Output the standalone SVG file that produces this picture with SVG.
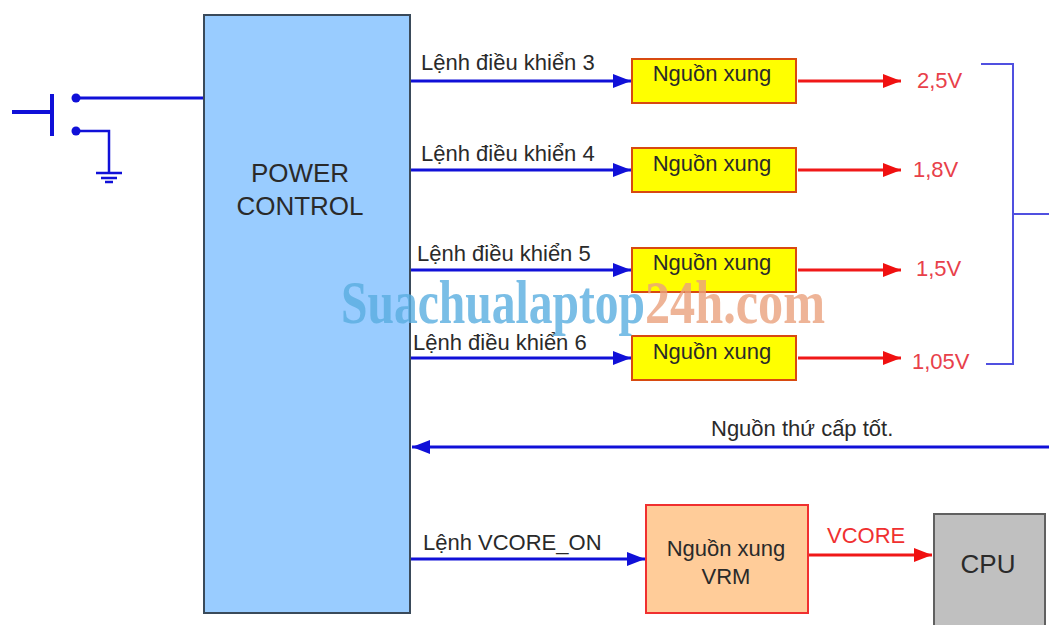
<svg xmlns="http://www.w3.org/2000/svg" width="1049" height="625" viewBox="0 0 1049 625">
<style>
text{font-family:"Liberation Sans",Arial,sans-serif;font-size:22px;fill:#2a2a2a}
.b{stroke:#1010d8;stroke-width:3;fill:none}
.r{stroke:#f01818;stroke-width:3;fill:none}
.t{stroke:#5050e0;stroke-width:2;fill:none}
.y{fill:#ffff00;stroke:#d84a10;stroke-width:2}
.v{fill:#e8404a}
.m{font-family:"Liberation Serif",serif;font-weight:bold;font-size:62px}
</style>
<defs>
<marker id="ab" markerUnits="userSpaceOnUse" markerWidth="20" markerHeight="16" refX="18" refY="8" orient="auto"><path d="M0 1L18 8L0 15Z" fill="#1010d8"/></marker>
<marker id="ar" markerUnits="userSpaceOnUse" markerWidth="20" markerHeight="16" refX="18" refY="8" orient="auto"><path d="M0 1L18 8L0 15Z" fill="#f01010"/></marker>
</defs>
<rect width="1049" height="625" fill="#fff"/>
<g id="connectors">
<path class="b" d="M76 98H204"/>
<path class="b" d="M52 94V136M12 112H52" style="stroke-width:4"/>
<path class="b" d="M76 131H109V172" style="stroke-width:2.5"/>
<circle cx="76" cy="98" r="4.5" fill="#1010d8"/><circle cx="76" cy="131" r="4.5" fill="#1010d8"/>
<path class="b" d="M96 173H122M101 178H117M105 182H113" style="stroke-width:2.5"/>
<path class="b" d="M411 81H631" marker-end="url(#ab)"/>
<path class="b" d="M411 170H631" marker-end="url(#ab)"/>
<path class="b" d="M411 270H631" marker-end="url(#ab)"/>
<path class="b" d="M411 358H631" marker-end="url(#ab)"/>
<path class="r" d="M798 81H901" marker-end="url(#ar)"/>
<path class="r" d="M798 170H901" marker-end="url(#ar)"/>
<path class="r" d="M798 270H901" marker-end="url(#ar)"/>
<path class="r" d="M798 358H901" marker-end="url(#ar)"/>
<path class="t" d="M981 64H1013V364H986M1013 214H1049"/>
<path class="b" d="M1049 447H412" marker-end="url(#ab)"/>
<path class="b" d="M411 559H645" marker-end="url(#ab)"/>
<path class="r" d="M808 555H932" marker-end="url(#ar)"/>
</g>
<g id="power-control"><rect x="204" y="15" width="206" height="598" fill="#99ccff" stroke="#3a4a5a" stroke-width="2"/>
<text x="300" y="182" text-anchor="middle" style="font-size:26px">POWER</text><text x="300" y="215" text-anchor="middle" style="font-size:26px">CONTROL</text></g>
<g id="n3"><rect class="y" x="632" y="59" width="164" height="44"/><text x="712" y="81" text-anchor="middle">Nguồn xung</text></g>
<g id="n4"><rect class="y" x="632" y="148" width="164" height="44"/><text x="712" y="171" text-anchor="middle">Nguồn xung</text></g>
<g id="n5"><rect class="y" x="632" y="248" width="164" height="44"/><text x="712" y="270" text-anchor="middle">Nguồn xung</text></g>
<g id="n6"><rect class="y" x="632" y="336" width="164" height="44"/><text x="712" y="359" text-anchor="middle">Nguồn xung</text></g>
<g id="vrm"><rect x="646" y="505" width="162" height="108" fill="#ffcc99" stroke="#f03030" stroke-width="2"/><text x="726" y="556" text-anchor="middle">Nguồn xung</text><text x="726" y="584" text-anchor="middle">VRM</text></g>
<g id="cpu"><rect x="934" y="514" width="111" height="115" fill="#c0c0c0" stroke="#606060" stroke-width="2"/><text x="988" y="573" text-anchor="middle" style="font-size:26px">CPU</text></g>
<g id="labels">
<text x="421" y="70">Lệnh điều khiển 3</text>
<text x="421" y="161">Lệnh điều khiển 4</text>
<text x="417" y="261">Lệnh điều khiển 5</text>
<text x="413" y="350">Lệnh điều khiển 6</text>
<text x="423" y="550">Lệnh VCORE_ON</text>
<text x="711" y="436">Nguồn thứ cấp tốt.</text>
<text class="v" x="917" y="88">2,5V</text>
<text class="v" x="913" y="177">1,8V</text>
<text class="v" x="916" y="276">1,5V</text>
<text class="v" x="912" y="369">1,05V</text>
<text class="v" x="827" y="543" style="fill:#f03030">VCORE</text>
</g>
<g id="watermark" opacity=".8">
<text class="m" x="341" y="323" textLength="304" lengthAdjust="spacingAndGlyphs" style="fill:#5aaee0">Suachualaptop</text>
<text class="m" x="645" y="323" textLength="180" lengthAdjust="spacingAndGlyphs" style="fill:#eba27e">24h.com</text>
</g>
</svg>
